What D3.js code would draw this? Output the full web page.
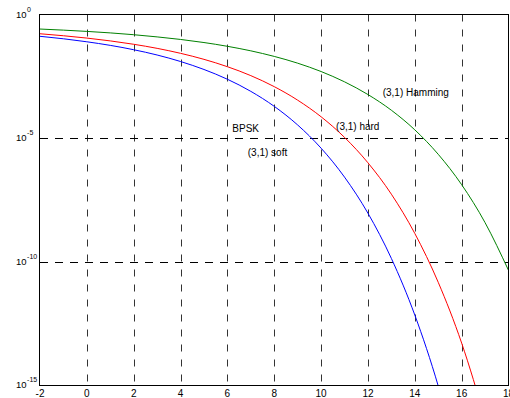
<!DOCTYPE html>
<html>
<head>
<meta charset="utf-8">
<script src="https://cdn.jsdelivr.net/npm/d3@7"></script>
<style>
  html, body { margin: 0; padding: 0; background: #fff; }
  svg { display: block; font-family: Arial, "Liberation Sans", Helvetica, sans-serif; }
</style>
</head>
<body>
<svg id="chart" width="510" height="398"></svg>
<script>
// Eb/N0 (dB) sample points and bit error rates
const snrSoft = [-2, -1, 0, 1, 2, 3, 4, 5, 6, 7, 8, 9, 10, 11, 12, 13, 14, 15, 16];
const berSoft = [0.131, 0.104, 0.0786, 0.0563, 0.0375, 0.0229, 0.0125, 5.95e-3, 2.39e-3, 7.73e-4,
                 1.91e-4, 3.36e-5, 3.87e-6, 2.61e-7, 9.01e-9, 1.33e-10, 6.81e-13, 9.12e-16, 2.3e-19];

const snrHard = [-2, -1, 0, 1, 2, 3, 4, 5, 6, 7, 8, 9, 10, 11, 12, 13, 14, 15, 16, 17];
const berHard = [0.166, 0.138, 0.111, 0.0854, 0.0623, 0.0426, 0.0268, 0.0153, 7.71e-3, 3.35e-3,
                 1.20e-3, 3.40e-4, 7.23e-5, 1.06e-5, 9.92e-7, 5.31e-8, 1.37e-9, 1.44e-11, 4.99e-14, 4.2e-17];

const snrHamming = [-2, -1, 0, 1, 2, 3, 4, 5, 6, 7, 8, 9, 10, 11, 12, 13, 14, 15, 16, 17, 18];
const berHamming = [0.258, 0.233, 0.207, 0.180, 0.152, 0.124, 0.0978, 0.0733, 0.0516, 0.0338,
                    0.0201, 0.0107, 4.91e-3, 1.88e-3, 5.75e-4, 1.33e-4, 2.14e-5, 2.19e-6, 1.29e-7, 3.74e-9, 4.4e-11];

const xTicks = [-2, 0, 2, 4, 6, 8, 10, 12, 14, 16, 18];
const yTickExps = [0, -5, -10, -15];

// text annotations (data coordinates)
const notes = [
  { text: '(3,1) Hamming', x: 12.63, y: 5.0e-4 },
  { text: '(3,1) hard', x: 10.64, y: 2.1e-5 },
  { text: 'BPSK', x: 6.21, y: 1.8e-5 },
  { text: '(3,1) soft', x: 6.87, y: 1.8e-6 }
];

const plotLeft = 40, plotRight = 508.5, plotTop = 14.5, plotBottom = 385;

const svg = d3.select('#chart');

const x = d3.scaleLinear().domain([-2, 18]).range([plotLeft, plotRight]);
const y = d3.scaleLog().domain([1e-15, 1]).range([plotBottom, plotTop]);

svg.append('defs').append('clipPath')
    .attr('id', 'clip')
    .append('rect')
    .attr('x', plotLeft)
    .attr('y', plotTop)
    .attr('width', plotRight - plotLeft)
    .attr('height', plotBottom - plotTop);

// dashed grid (inner ticks only, not on the box edges)
const grid = svg.append('g');
grid.selectAll('line.vgrid')
    .data(xTicks.slice(1, -1))
    .enter()
    .append('line')
    .attr('class', 'vgrid')
    .attr('x1', d => Math.round(x(d)) + 0.5)
    .attr('x2', d => Math.round(x(d)) + 0.5)
    .attr('y1', plotTop)
    .attr('y2', plotBottom)
    .attr('stroke', '#333')
    .attr('stroke-width', 1)
    .attr('stroke-dasharray', '7,8');

grid.selectAll('line.hgrid')
    .data(yTickExps.slice(1, -1))
    .enter()
    .append('line')
    .attr('class', 'hgrid')
    .attr('x1', plotLeft)
    .attr('x2', plotRight)
    .attr('y1', d => Math.round(y(Math.pow(10, d))) + 0.5)
    .attr('y2', d => Math.round(y(Math.pow(10, d))) + 0.5)
    .attr('stroke', '#000')
    .attr('stroke-width', 1)
    .attr('stroke-dasharray', '8,7');

// curves
const series = [
  { xs: snrSoft, ys: berSoft, color: '#0000ff' },
  { xs: snrHard, ys: berHard, color: '#ff0000' },
  { xs: snrHamming, ys: berHamming, color: '#008000' }
];

const line = d3.line()
    .x(d => x(d[0]))
    .y(d => y(d[1]))
    .curve(d3.curveMonotoneX);

const plot = svg.append('g').attr('clip-path', 'url(#clip)');
series.forEach(s => {
    plot.append('path')
        .datum(d3.zip(s.xs, s.ys))
        .attr('d', line)
        .attr('fill', 'none')
        .attr('stroke', s.color)
        .attr('stroke-width', 1);
});

// axes box
svg.append('rect')
    .attr('x', plotLeft - 0.5)
    .attr('y', plotTop)
    .attr('width', plotRight - plotLeft + 0.5)
    .attr('height', plotBottom - plotTop + 0.5)
    .attr('fill', 'none')
    .attr('stroke', '#000')
    .attr('stroke-width', 1);

// x tick labels (sit right at the bottom edge, as in the original)
svg.append('g').selectAll('text')
    .data(xTicks)
    .enter()
    .append('text')
    .attr('x', d => x(d))
    .attr('y', 397)
    .attr('text-anchor', 'middle')
    .attr('font-size', 10)
    .attr('fill', '#000')
    .text(d => d);

// y tick labels as 10^n
const yl = svg.append('g').selectAll('text')
    .data(yTickExps)
    .enter()
    .append('text')
    .attr('x', 16)
    .attr('y', d => y(Math.pow(10, d)) + 3)
    .attr('font-size', 9.5)
    .attr('fill', '#000');
yl.append('tspan').text('10');
yl.append('tspan')
    .attr('font-size', 7)
    .attr('dy', -6)
    .attr('dx', 0.5)
    .text(d => d);

// annotations
svg.append('g').selectAll('text')
    .data(notes)
    .enter()
    .append('text')
    .attr('x', d => x(d.x))
    .attr('y', d => y(d.y))
    .attr('font-size', 10)
    .attr('fill', '#000')
    .text(d => d.text);
</script>
</body>
</html>
